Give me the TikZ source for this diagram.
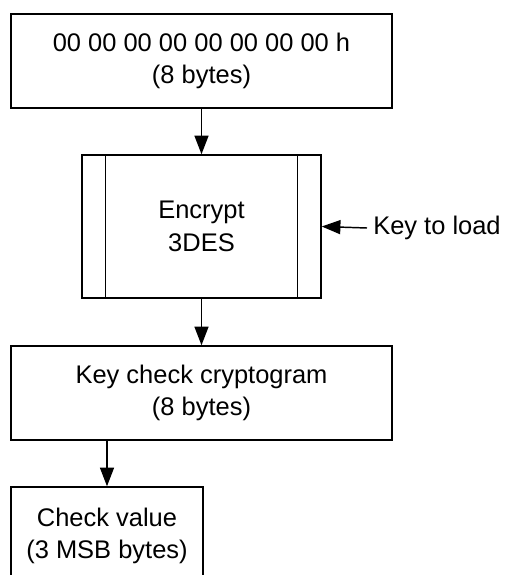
\documentclass[tikz,border=0pt]{standalone}
\usepackage{fontspec}
\setmainfont{Liberation Sans}
\usetikzlibrary{arrows.meta}
\begin{document}
\begin{tikzpicture}[x=0.75pt,y=-0.75pt,
  box/.style={draw, line width=1.1pt, rectangle, inner sep=0pt, align=center,
    font=\fontsize{19.1}{24.4}\selectfont},
  lbl/.style={inner sep=0pt, font=\fontsize{19.1}{24.4}\selectfont},
  flow/.style={line width=1.1pt, -{Triangle[length=14pt,width=10.5pt]}}]
\useasboundingbox (0,0) rectangle (508,575);
\clip (0,0) rectangle (508,575);
\node[box, minimum width={381*0.75pt}, minimum height={94*0.75pt}] (top) at (201.5,61)
  {00 00 00 00 00 00 00 00 h\\(8 bytes)};
\node[box, minimum width={239*0.75pt}, minimum height={143*0.75pt}] (enc) at (201.5,226.5)
  {Encrypt\\3DES};
\draw[line width=1.1pt] ([xshift={24*0.75pt}]enc.north west) -- ([xshift={24*0.75pt}]enc.south west);
\draw[line width=1.1pt] ([xshift={-24*0.75pt}]enc.north east) -- ([xshift={-24*0.75pt}]enc.south east);
\node[lbl, anchor=west, inner xsep={6*0.75pt}] (key) at (367,228) {Key to load};
\node[box, minimum width={381*0.75pt}, minimum height={94*0.75pt}] (kcc) at (201.5,393)
  {Key check cryptogram\\(8 bytes)};
\node[box, minimum width={192*0.75pt}, minimum height={98*0.75pt}] (chk) at (107,536)
  {Check value\\(3 MSB bytes)};
\draw[flow] (top.south) -- (enc.north);
\draw[flow] (key.west) -- (enc.east);
\draw[flow] (enc.south) -- (kcc.north);
\draw[flow] (kcc.south -| chk.north) -- (chk.north);
\end{tikzpicture}
\end{document}
